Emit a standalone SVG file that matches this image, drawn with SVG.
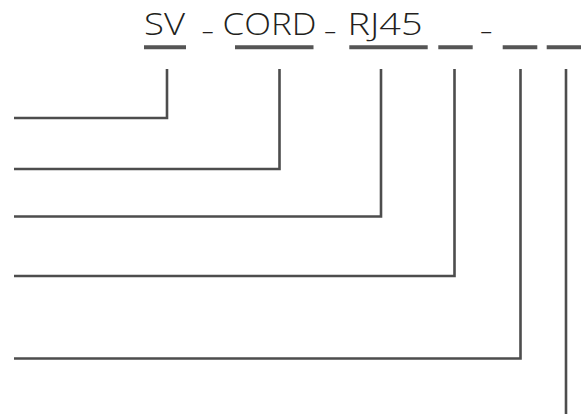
<svg xmlns="http://www.w3.org/2000/svg" width="587" height="414" viewBox="0 0 587 414">
<style>
.t{font-family:"Open Sans","Liberation Sans",Arial,sans-serif;font-weight:300;font-size:31px;fill:#231f20}
.d{font-family:"Liberation Sans",Arial,sans-serif;font-size:17px;fill:#231f20}
.u{stroke:#555;stroke-width:4;fill:none}
.c{stroke:#4d4d4d;stroke-width:2.6;fill:none}
</style>
<rect width="587" height="414" fill="#fff"/>
<g id="code">
<text class="t" x="144" y="35" textLength="41" lengthAdjust="spacingAndGlyphs">SV</text>
<text class="t" x="222.5" y="35" textLength="94" lengthAdjust="spacingAndGlyphs">CORD</text>
<text class="t" x="347.5" y="35" textLength="75" lengthAdjust="spacingAndGlyphs">RJ45</text>
<text class="d" x="203" y="29.5">_</text>
<text class="d" x="325.5" y="29.5">_</text>
<text class="d" x="481.5" y="29.5">_</text>
</g>
<g id="underlines">
<line class="u" x1="144" y1="47.3" x2="186" y2="47.3"/>
<line class="u" x1="235" y1="47.3" x2="313.5" y2="47.3"/>
<line class="u" x1="349.3" y1="47.3" x2="427.7" y2="47.3"/>
<line class="u" x1="438.3" y1="47.3" x2="472.7" y2="47.3"/>
<line class="u" x1="502.7" y1="47.3" x2="537.3" y2="47.3"/>
<line class="u" x1="546.7" y1="47.3" x2="581" y2="47.3"/>
</g>
<g id="connectors">
<path class="c" d="M14,118 H167 V69"/>
<path class="c" d="M14,169 H279.5 V69"/>
<path class="c" d="M14,216.5 H381 V69"/>
<path class="c" d="M14,276 H454.5 V69"/>
<path class="c" d="M14,358.5 H520.5 V69"/>
<path class="c" d="M566,69 V414"/>
</g>
</svg>
